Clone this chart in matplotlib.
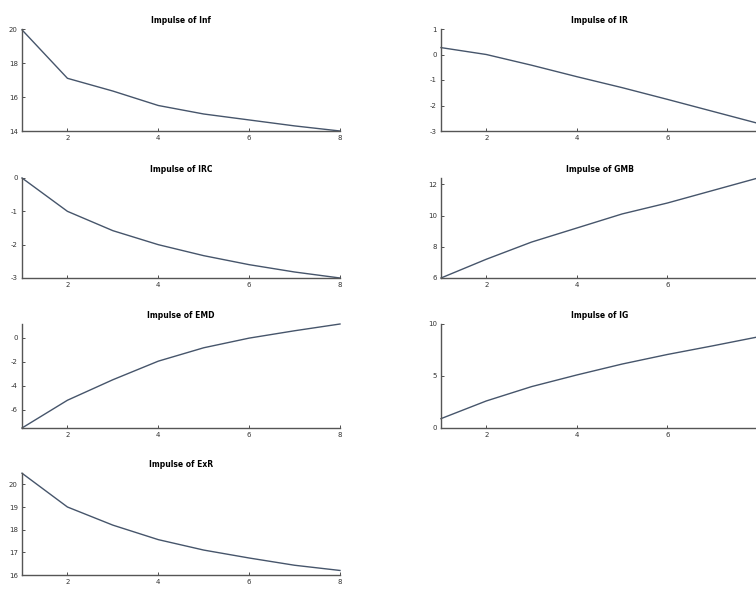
import matplotlib
matplotlib.use('Agg')
import matplotlib.pyplot as plt

plt.rcParams['axes.unicode_minus'] = False

# horizon steps
steps = [1, 2, 3, 4, 5, 6, 7, 8]

# impulse responses
inf_resp = [19.95, 17.1, 16.35, 15.5, 15.0, 14.65, 14.3, 14.0]
ir_resp = [0.27, 0.0, -0.42, -0.87, -1.3, -1.76, -2.23, -2.7]
irc_resp = [0.0, -1.0, -1.58, -2.0, -2.33, -2.6, -2.82, -3.0]
gmb_resp = [6.0, 7.2, 8.3, 9.2, 10.1, 10.8, 11.6, 12.4]
emd_resp = [-7.5, -5.2, -3.5, -1.96, -0.85, -0.05, 0.56, 1.12]
ig_resp = [0.9, 2.6, 3.98, 5.1, 6.15, 7.07, 7.9, 8.76]
exr_resp = [20.49, 19.0, 18.2, 17.56, 17.1, 16.75, 16.43, 16.2]

titles = ['Impulse of Inf', 'Impulse of IR', 'Impulse of IRC', 'Impulse of GMB',
          'Impulse of EMD', 'Impulse of IG', 'Impulse of ExR']
series = [inf_resp, ir_resp, irc_resp, gmb_resp, emd_resp, ig_resp, exr_resp]
ylims = [(14, 20), (-3, 1), (-3, 0), (6, 12.4), (-7.5, 1.12), (0, 10), (16, 20.5)]
yticks = [[14, 16, 18, 20], [-3, -2, -1, 0, 1], [-3, -2, -1, 0], [6, 8, 10, 12],
          [-6, -4, -2, 0], [0, 5, 10], [16, 17, 18, 19, 20]]

W, H = 756, 593
fig = plt.figure(figsize=(W / 100, H / 100), dpi=100)

# axes boxes in pixels: left, top, right, bottom
cols = [(22, 340), (441, 758)]
rows = [(29, 131), (178, 278), (324, 428), (473, 575)]

line_color = '#46556b'
for k, (title, vals) in enumerate(zip(titles, series)):
    r, c = divmod(k, 2)
    x0, x1 = cols[c]
    y0, y1 = rows[r]
    ax = fig.add_axes([x0 / W, 1 - y1 / H, (x1 - x0) / W, (y1 - y0) / H])
    ax.plot(steps, vals, color=line_color, lw=1.0, clip_on=False)
    ax.set_xlim(1, 8)
    ax.set_ylim(*ylims[k])
    # right column runs past the picture edge, its "8" is not shown
    ax.set_xticks([2, 4, 6, 8] if c == 0 else [2, 4, 6])
    ax.set_yticks(yticks[k])
    for s in ['top', 'right']:
        ax.spines[s].set_visible(False)
    for s in ['left', 'bottom']:
        ax.spines[s].set_color('#555555')
        ax.spines[s].set_linewidth(1.0)
    ax.tick_params(direction='in', length=2.5, width=0.6, labelsize=5,
                   colors='#333333', pad=3)
    ax.set_title(title, fontsize=5.5, fontweight='bold',
                 family=['Liberation Sans Narrow', 'DejaVu Sans'], pad=4)

fig.savefig('out.png', dpi=100)
